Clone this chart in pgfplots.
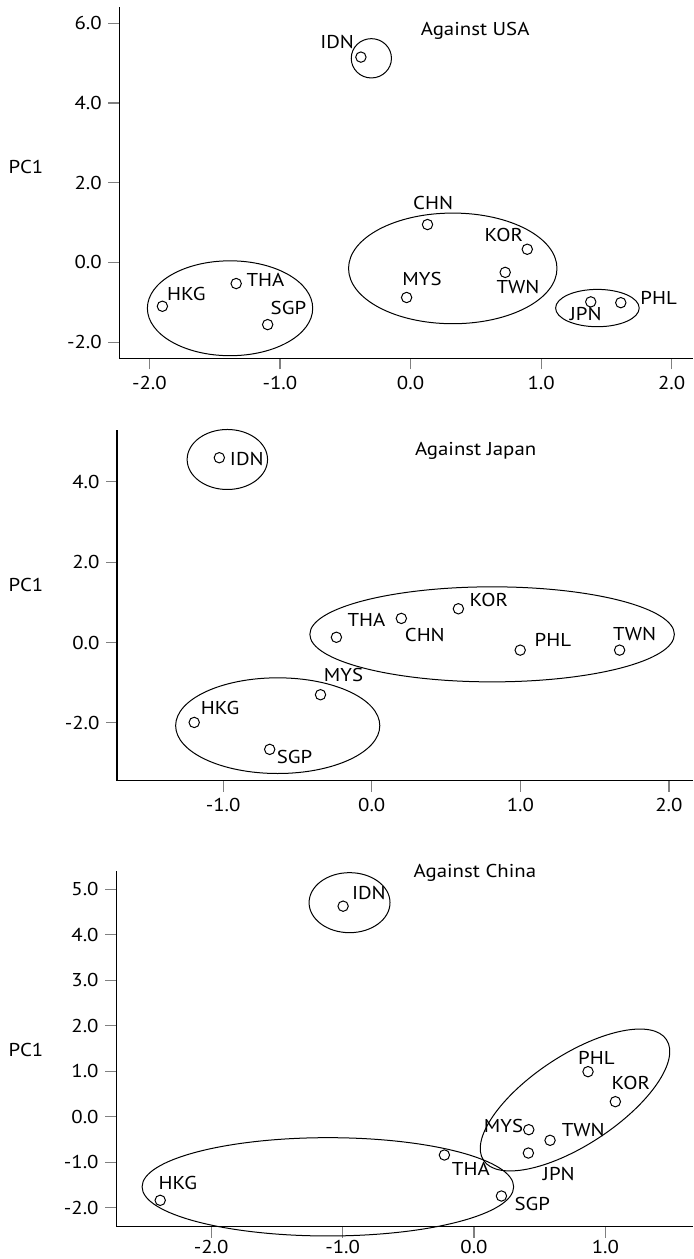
\documentclass[border=0pt]{standalone}
\usepackage{pgfplots}
\pgfplotsset{compat=1.18}
\usepackage{fontspec}
\setmainfont{PT Sans}[FakeStretch=1.12]
\newcommand{\lf}{\fontsize{9.3}{11}\selectfont}
\pgfplotsset{
  pcstyle/.style={
    scale only axis, anchor=south west,
    axis x line=bottom, axis y line=left,
    axis line style={-, black, line width=0.6pt},
    tick align=outside, major tick length=5.5pt,
    tick style={gray, line width=0.6pt},
    enlargelimits=false, clip=false,
    tick label style={font=\lf},
  },
  mk/.style={only marks, mark=o, mark size=2.6pt, mark options={solid, line width=0.5pt, draw=black, fill=white}, draw=black},
}
\begin{document}
\lf
\begin{tikzpicture}
\useasboundingbox (0,0) rectangle (346.5pt,629.5pt);
% ---------- Panel 1: Against USA
\begin{axis}[pcstyle, at={(59.65pt,450.25pt)}, width=286.85pt, height=175.6pt,
  xmin=-2.230, xmax=2.163, ymin=-2.41, ymax=6.40,
  xtick={-2,-1,0,1,2}, xticklabels={-2.0,-1.0,0.0,1.0,2.0},
  ytick={-2,0,2,4,6}, yticklabels={-2.0,0.0,2.0,4.0,6.0}]
\draw[line width=0.5pt] (axis cs:-0.30,5.12) ellipse [x radius=0.154, y radius=0.493];
\draw[line width=0.5pt] (axis cs:-1.382,-1.15) ellipse [x radius=0.633, y radius=1.19];
\draw[line width=0.5pt] (axis cs:0.3235,-0.15) ellipse [x radius=0.798, y radius=1.388];
\draw[line width=0.5pt] (axis cs:1.431,-1.145) ellipse [x radius=0.32, y radius=0.468];
\addplot[mk] coordinates {(-0.38,5.15) (0.13,0.95) (0.894,0.33) (0.725,-0.25) (-0.03,-0.88)
  (-1.90,-1.10) (-1.335,-0.53) (-1.094,-1.56) (1.38,-0.99) (1.61,-1.01)};
\node at (axis cs:-0.562,5.52) {IDN};
\node at (axis cs:0.173,1.49) {CHN};
\node at (axis cs:0.715,0.68) {KOR};
\node at (axis cs:0.088,-0.42) {MYS};
\node at (axis cs:0.823,-0.62) {TWN};
\node at (axis cs:-1.717,-0.79) {HKG};
\node at (axis cs:-1.111,-0.44) {THA};
\node at (axis cs:-0.935,-1.15) {SGP};
\node at (axis cs:1.341,-1.30) {JPN};
\node at (axis cs:1.90,-0.88) {PHL};
\node at (axis cs:0.495,5.82) {Against USA};
\end{axis}
\node at (13pt,546.2pt) {PC1};
% ---------- Panel 2: Against Japan
\begin{axis}[pcstyle, at={(58.55pt,239.15pt)}, width=287.95pt, height=175.35pt,
  xmin=-1.714, xmax=2.162, ymin=-3.44, ymax=5.29,
  xtick={-1,0,1,2}, xticklabels={-1.0,0.0,1.0,2.0},
  ytick={-2,0,2,4}, yticklabels={-2.0,0.0,2.0,4.0}]
\draw[line width=0.5pt] (axis cs:-0.972,4.556) ellipse [x radius=0.2706, y radius=0.747];
\draw[line width=0.5pt] (axis cs:0.810,0.203) ellipse [x radius=1.2266, y radius=1.183];
\draw[line width=0.5pt] (axis cs:-0.633,-2.07) ellipse [x radius=0.687, y radius=1.191];
\addplot[mk] coordinates {(-1.026,4.60) (0.583,0.84) (0.199,0.60) (-0.238,0.13) (0.999,-0.19)
  (1.668,-0.19) (-0.345,-1.30) (-1.195,-1.99) (-0.687,-2.66)};
\node at (axis cs:-0.841,4.57) {IDN};
\node at (axis cs:0.699,4.77) {Against Japan};
\node at (axis cs:0.788,1.05) {KOR};
\node at (axis cs:-0.036,0.57) {THA};
\node at (axis cs:0.357,0.18) {CHN};
\node at (axis cs:1.219,0.06) {PHL};
\node at (axis cs:1.769,0.22) {TWN};
\node at (axis cs:-0.19,-0.81) {MYS};
\node at (axis cs:-1.02,-1.62) {HKG};
\node at (axis cs:-0.52,-2.86) {SGP};
\end{axis}
\node at (13pt,337pt) {PC1};
% ---------- Panel 3: Against China
\begin{axis}[pcstyle, at={(58.1pt,16.15pt)}, width=288.4pt, height=178pt,
  xmin=-2.723, xmax=1.667, ymin=-2.42, ymax=5.41,
  xtick={-2,-1,0,1}, xticklabels={-2.0,-1.0,0.0,1.0},
  xticklabel style={yshift=1.8pt},
  ytick={-2,-1,0,1,2,3,4,5}, yticklabels={-2.0,-1.0,0.0,1.0,2.0,3.0,4.0,5.0}]
\draw[line width=0.5pt] (axis cs:-0.947,4.707) ellipse [x radius=0.308, y radius=0.66];
\draw[line width=0.5pt] (axis cs:-1.112,-1.543) ellipse [x radius=1.414, y radius=1.081];
\coordinate (rc) at (axis cs:0.769,0.367);
\addplot[mk] coordinates {(-0.996,4.63) (0.868,0.99) (1.076,0.33) (0.417,-0.286) (0.579,-0.52)
  (0.414,-0.80) (-0.225,-0.843) (-2.388,-1.84) (0.209,-1.745)};
\node at (axis cs:0.007,5.37) {Against China};
\node at (axis cs:-0.80,4.93) {IDN};
\node at (axis cs:0.932,1.30) {PHL};
\node at (axis cs:1.194,0.75) {KOR};
\node at (axis cs:0.225,-0.205) {MYS};
\node at (axis cs:0.831,-0.30) {TWN};
\node at (axis cs:0.646,-1.27) {JPN};
\node at (axis cs:-0.024,-1.14) {THA};
\node at (axis cs:-2.254,-1.45) {HKG};
\node at (axis cs:0.444,-1.91) {SGP};
\end{axis}
\draw[line width=0.5pt, rotate around={33.4:(rc)}] (rc) ellipse [x radius=54.8pt, y radius=22.35pt];
\node at (13pt,104.5pt) {PC1};
\end{tikzpicture}
\end{document}
